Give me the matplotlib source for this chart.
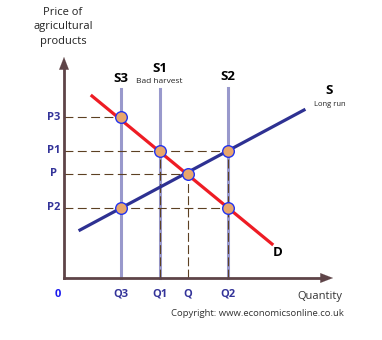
import matplotlib
matplotlib.use('Agg')
import matplotlib.pyplot as plt

# quantities and prices
q_labels = ['Q3', 'Q1', 'Q', 'Q2']
q_vals = [5.7, 9.6, 12.4, 16.4]
p_labels = ['P3', 'P1', 'P', 'P2']
p_vals = [16.1, 12.75, 10.4, 7.0]

# demand D and long run supply S
demand_q = [2.8, 20.8]
demand_p = [18.2, 3.4]
supply_q = [1.6, 24.0]
supply_p = [4.8, 16.8]

# short run (vertical) supply curves
short_names = ['S3', 'S1', 'S2']
short_q = [5.7, 9.6, 16.4]
short_top = [18.9, 18.9, 19.0]

# equilibrium points (q, p)
points_q = [5.7, 9.6, 12.4, 16.4, 5.7, 16.4]
points_p = [16.1, 12.75, 10.4, 12.75, 7.0, 7.0]

# dashed guides: price level, right end, and drop-down (q, from p)
guide_p = [16.1, 12.75, 10.4, 7.0]
guide_end = [5.7, 16.4, 12.4, 16.4]
drop_q = [9.6, 12.4, 16.4]
drop_from = [12.75, 10.4, 12.75]

axis_col = '#5e4448'
dash_col = '#5c4022'
label_col = '#333399'

plt.rcParams['font.family'] = ['Open Sans', 'DejaVu Sans']

fig = plt.figure(figsize=(3.82, 3.40), dpi=100)
ax = fig.add_axes([0, 0, 1, 1])
ax.set_xlim(-6.4, 31.8)
ax.set_ylim(-6.2, 27.8)
ax.axis('off')

# axes with arrows
ax.plot([0, 0], [0, 21.0], color=axis_col, lw=2, solid_capstyle='projecting', zorder=3)
ax.plot([0, 26.0], [0, 0], color=axis_col, lw=2, solid_capstyle='projecting', zorder=3)
ax.annotate('', xy=(0, 22.1), xytext=(0, 20.5),
            arrowprops=dict(arrowstyle='-|>,head_length=0.9,head_width=0.35',
                            color=axis_col, lw=0.1, shrinkA=0, shrinkB=0), zorder=3)
ax.annotate('', xy=(26.9, 0), xytext=(25.3, 0),
            arrowprops=dict(arrowstyle='-|>,head_length=0.9,head_width=0.35',
                            color=axis_col, lw=0.1, shrinkA=0, shrinkB=0), zorder=3)

# vertical supply curves
for q, top in zip(short_q, short_top):
    ax.plot([q, q], [0, top], color='#9999cc', lw=2.2, zorder=1)

# dashed guides
for p, end in zip(guide_p, guide_end):
    ax.plot([0, end], [p, p], color=dash_col, lw=0.8, dashes=(8, 4), zorder=2)
for q, top in zip(drop_q, drop_from):
    ax.plot([q, q], [0, top], color=dash_col, lw=0.8, dashes=(8, 3), zorder=2)

# demand and supply
ax.plot(demand_q, demand_p, color='#ee1c24', lw=2.3, zorder=4)
ax.plot(supply_q, supply_p, color='#2e3192', lw=2.3, zorder=4)

ax.scatter(points_q, points_p, s=70, color='#e8a66c', edgecolors='#2233ee',
           linewidths=1.0, zorder=5)

# labels
for lab, p in zip(p_labels, p_vals):
    ax.text(-1.05, p, lab, color=label_col, fontsize=8, fontweight='bold',
            ha='center', va='center')
for lab, q in zip(q_labels, q_vals):
    ax.text(q, -1.65, lab, color=label_col, fontsize=8, fontweight='bold',
            ha='center', va='center')
ax.text(-0.6, -1.65, '0', color='#1a1aee', fontsize=8, fontweight='bold',
        ha='center', va='center')

ax.text(-0.1, 25.1, 'Price of\nagricultural\nproducts', color='#222222', fontsize=8,
        ha='center', va='center', linespacing=1.45)
ax.text(25.6, -1.85, 'Quantity', color='#333333', fontsize=8, ha='center', va='center')
ax.text(19.3, -3.6, 'Copyright: www.economicsonline.co.uk', color='#333333',
        fontsize=6.8, ha='center', va='center')

for name, q, dy in zip(short_names, short_q, [20.0, 21.0, 20.1]):
    ax.text(q, dy, name, color='black', fontsize=9.5, fontweight='bold',
            ha='center', va='center')
ax.text(9.5, 19.65, 'Bad harvest', color='#222222', fontsize=6, ha='center',
        va='center')
ax.text(26.5, 18.8, 'S', color='black', fontsize=9.5, fontweight='bold',
        ha='center', va='center')
ax.text(26.6, 17.4, 'Long run', color='#222222', fontsize=5.5, ha='center', va='center')
ax.text(21.4, 2.5, 'D', color='black', fontsize=9.5, fontweight='bold',
        ha='center', va='center')

fig.savefig('out.png', dpi=100)
